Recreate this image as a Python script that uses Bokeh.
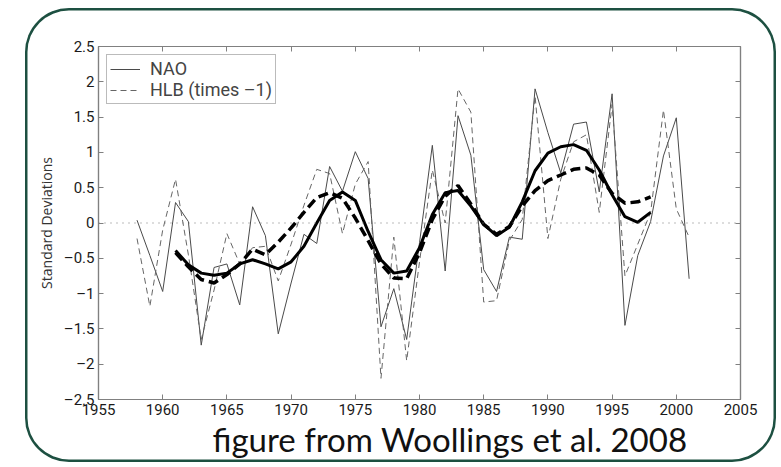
from bokeh.plotting import figure
from bokeh.models import Range1d, LinearAxis, FixedTicker, Span, Title
from bokeh.embed import file_html
from bokeh.resources import INLINE

# ---- data ----
years = list(range(1958, 2002))
nao = [0.04, -0.46, -0.97, 0.29, 0.02, -1.73, -0.63, -0.58, -1.16, 0.23,
       -0.18, -1.57, -0.85, -0.16, -0.29, 0.80, 0.45, 1.01, 0.63, -1.47,
       -0.93, -1.65, -0.28, 1.10, -0.68, 1.52, 0.96, -0.66, -0.97, -0.20,
       -0.23, 1.90, 1.28, 0.71, 1.40, 1.43, 0.44, 1.83, -1.45, -0.46,
       0.02, 0.95, 1.49, -0.79]
hlb = [-0.22, -1.18, -0.10, 0.62, -0.45, -1.65, -0.95, -0.15, -0.58, -0.35,
       -0.33, -0.82, -0.30, 0.25, 0.76, 0.70, -0.15, 0.55, 0.87, -2.20,
       -0.20, -1.95, -0.55, 0.75, 0.00, 1.90, 1.57, -1.12, -1.10, -0.25,
       0.05, 1.80, -0.22, 0.62, 1.15, 1.25, 0.15, 1.68, -0.75, -0.30,
       0.15, 1.60, 0.20, -0.20]
smooth_years = list(range(1961, 1999))
nao_smooth = [-0.39, -0.59, -0.71, -0.74, -0.71, -0.58, -0.52, -0.58, -0.65, -0.55,
              -0.33, 0.00, 0.32, 0.44, 0.32, -0.12, -0.52, -0.71, -0.68, -0.35,
              0.12, 0.43, 0.46, 0.24, -0.02, -0.18, -0.06, 0.30, 0.74, 0.99,
              1.08, 1.11, 1.03, 0.75, 0.40, 0.09, 0.01, 0.15]
hlb_smooth = [-0.42, -0.62, -0.80, -0.85, -0.73, -0.58, -0.37, -0.45, -0.27, -0.07,
              0.15, 0.36, 0.43, 0.35, 0.07, -0.25, -0.58, -0.78, -0.79, -0.42,
              0.05, 0.38, 0.53, 0.27, -0.02, -0.16, -0.05, 0.24, 0.46, 0.60,
              0.68, 0.76, 0.78, 0.68, 0.42, 0.28, 0.30, 0.37]
x_ticks = [1955, 1960, 1965, 1970, 1975, 1980, 1985, 1990, 1995, 2000, 2005]
y_ticks = [-2.5, -2, -1.5, -1, -0.5, 0, 0.5, 1, 1.5, 2, 2.5]
y_tick_labels = ["\u20132.5", "\u20132", "\u20131.5", "\u20131", "\u20130.5", "0",
                 "0.5", "1", "1.5", "2", "2.5"]
caption = "figure from Woollings et al. 2008"

TICK_FONT = "Roboto"
AXIS_COLOR = "#808080"

p = figure(width=751, height=454, output_backend="svg", toolbar_location=None,
           x_range=Range1d(1955, 2005), y_range=Range1d(-2.5, 2.5),
           min_border_left=73, min_border_right=36, min_border_top=38,
           min_border_bottom=63)
p.margin = (8, 0, 0, 25)
p.styles = {"border-radius": "44px",
            "box-shadow": "inset 0 0 0 2.5px #1d5041"}
p.grid.visible = False
p.outline_line_color = AXIS_COLOR
p.outline_line_width = 1.2
p.background_fill_color = "white"
p.border_fill_color = None

p.add_layout(LinearAxis(), "above")
p.add_layout(LinearAxis(), "right")

for ax in p.xaxis:
    ax.ticker = FixedTicker(ticks=x_ticks)
for ax in p.yaxis:
    ax.ticker = FixedTicker(ticks=y_ticks)
    ax.major_label_overrides = {t: l for t, l in zip(y_ticks, y_tick_labels)}

for ax in p.axis:
    ax.major_tick_in = 5
    ax.major_tick_out = 0
    ax.minor_tick_line_color = None
    ax.axis_line_color = AXIS_COLOR
    ax.axis_line_width = 1.2
    ax.major_tick_line_color = AXIS_COLOR
    ax.major_label_text_font = TICK_FONT
    ax.major_label_text_font_size = "15px"
    ax.major_label_text_color = "#1a1a1a"
    ax.major_label_standoff = 4

for ax in (p.above[0], p.right[0]):
    ax.major_label_text_color = None
    ax.major_label_text_font_size = "6px"
    ax.major_label_standoff = 0

left = p.left[0]
left.axis_label = "Standard Deviations"
left.axis_label_text_font = "Open Sans"
left.axis_label_text_font_size = "14px"
left.axis_label_text_font_style = "normal"
left.axis_label_text_color = "#333333"
left.axis_label_standoff = 5

p.add_layout(Span(location=0, dimension="width", line_color="#777777",
                  line_width=1, line_dash="1 5"))

p.line(years, nao, line_color="#4a4a4a", line_width=1, legend_label="NAO")
p.line(years, hlb, line_color="#666666", line_width=1, line_dash="6 4",
       legend_label="HLB (times \u20131)")
p.line(smooth_years, nao_smooth, line_color="black", line_width=3)
p.line(smooth_years, hlb_smooth, line_color="black", line_width=3.5, line_dash="10 5")

lg = p.legend[0]
lg.location = "top_left"
lg.margin = 8
lg.padding = 3
lg.spacing = 0
lg.glyph_width = 30
lg.glyph_height = 16
lg.label_height = 16
lg.label_standoff = 10
lg.label_text_font = TICK_FONT
lg.label_text_font_size = "18px"
lg.label_text_line_height = 0.85
lg.border_line_color = "#777777"
lg.border_line_width = 1.2
lg.background_fill_alpha = 1.0

p.add_layout(Title(text=caption, align="left", offset=114, standoff=0,
                   vertical_align="middle", text_font="Lato",
                   text_font_size="33px", text_font_style="normal",
                   text_color="#111111"), "below")

open("out.html", "w").write(file_html(p, INLINE))
